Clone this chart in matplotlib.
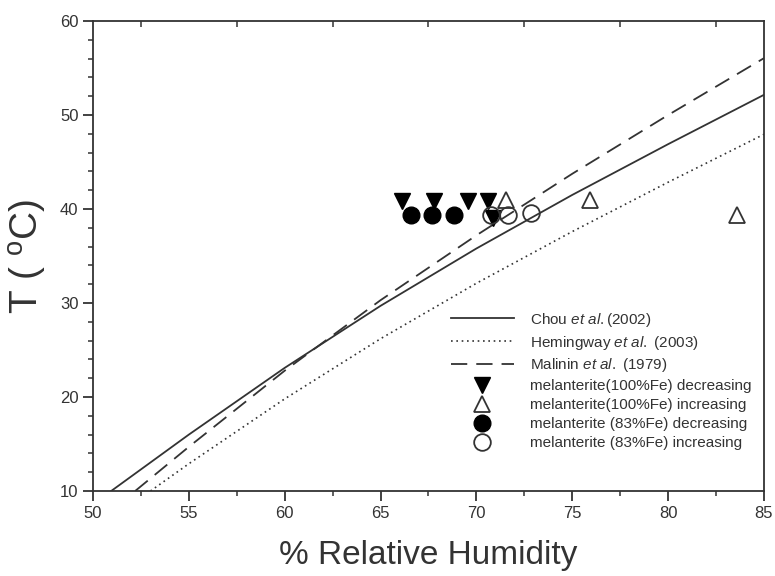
import matplotlib
matplotlib.use("Agg")
import matplotlib.pyplot as plt
import numpy as np

plt.rcParams['font.family'] = ['Liberation Sans', 'DejaVu Sans']
plt.rcParams['mathtext.fontset'] = 'custom'
plt.rcParams['mathtext.rm'] = 'Liberation Sans'
plt.rcParams['mathtext.it'] = 'Liberation Sans:italic'

# model curves
chou_rh = [50.95, 55, 60, 65, 70, 75, 80, 85]
chou_t = [10.0, 16.0, 23.1, 29.7, 35.8, 41.5, 46.9, 52.15]

hem_rh = [53.0, 55, 60, 65, 70, 75, 80, 85]
hem_t = [10.0, 12.9, 19.8, 26.2, 32.1, 37.6, 42.85, 47.95]

mal_rh = [52.2, 55, 60, 65, 70, 75, 80, 85]
mal_t = [10.0, 14.7, 22.8, 30.3, 37.2, 43.75, 50.0, 56.05]

# experimental points
fe100_dec_rh = [66.1, 67.8, 69.55, 70.6, 70.85]
fe100_dec_t = [40.8, 40.8, 40.8, 40.8, 39.05]

fe100_inc_rh = [71.55, 75.9, 83.6]
fe100_inc_t = [41.0, 41.0, 39.4]

fe83_dec_rh = [66.6, 67.7, 68.85]
fe83_dec_t = [39.4, 39.4, 39.4]

fe83_inc_rh = [70.75, 71.65, 72.85]
fe83_inc_t = [39.4, 39.4, 39.55]

ink = '#333333'

fig = plt.figure(figsize=(7.75, 5.76), dpi=100)
ax = fig.add_axes([0.12, 0.1476, 0.8658, 0.8159])

ax.plot(chou_rh, chou_t, color=ink, lw=1.3, label=r'Chou $\it{et\ al.}$(2002)')
ax.plot(hem_rh, hem_t, color=ink, lw=1.2, ls=(0, (1, 2.2)),
        label=r'Hemingway $\it{et\ al.}$ (2003)')
ax.plot(mal_rh, mal_t, color=ink, lw=1.3, ls=(0, (9, 5)),
        label=r'Malinin $\it{et\ al.}$ (1979)')

ms = 12
ax.plot(fe100_dec_rh, fe100_dec_t, ls='none', marker='v', ms=ms, color='black',
        label='melanterite(100%Fe) decreasing')
ax.plot(fe100_inc_rh, fe100_inc_t, ls='none', marker='^', ms=ms, mfc='white',
        mec=ink, mew=1.3, label='melanterite(100%Fe) increasing')
ax.plot(fe83_dec_rh, fe83_dec_t, ls='none', marker='o', ms=ms, color='black',
        label='melanterite (83%Fe) decreasing')
ax.plot(fe83_inc_rh, fe83_inc_t, ls='none', marker='o', ms=ms, mfc='none',
        mec=ink, mew=1.3, label='melanterite (83%Fe) increasing')

ax.set_xlim(50, 85)
ax.set_ylim(10, 60)
ax.set_xticks(np.arange(50, 86, 5))
ax.set_yticks(np.arange(10, 61, 10))
ax.set_xticks(np.arange(50, 85.1, 2.5), minor=True)
ax.set_yticks(np.arange(10, 60.1, 2), minor=True)
ax.tick_params(which='major', direction='out', length=7, width=1.3, color=ink,
               labelsize=12, labelcolor=ink)
ax.tick_params(which='minor', direction='out', length=3.5, width=1.1, color=ink)

top = ax.secondary_xaxis('top')
top.set_xticks(np.arange(52.5, 85, 5))
top.tick_params(direction='in', length=4, width=1.1, color=ink, labeltop=False)
top.spines['top'].set_visible(False)

for s in ax.spines.values():
    s.set_color(ink)
    s.set_linewidth(1.3)

ax.set_xlabel('% Relative Humidity', fontsize=24, color=ink, labelpad=14)
ax.set_ylabel(r'T ( $\mathregular{^o}$C)', fontsize=28, color=ink, labelpad=8)

ax.legend(loc='upper left', bbox_to_anchor=(0.522, 0.40), frameon=False,
          fontsize=11, borderpad=0, handlelength=4.1, handletextpad=1.1,
          labelspacing=0.32, numpoints=1, labelcolor=ink)

plt.savefig('out.png', dpi=100)
